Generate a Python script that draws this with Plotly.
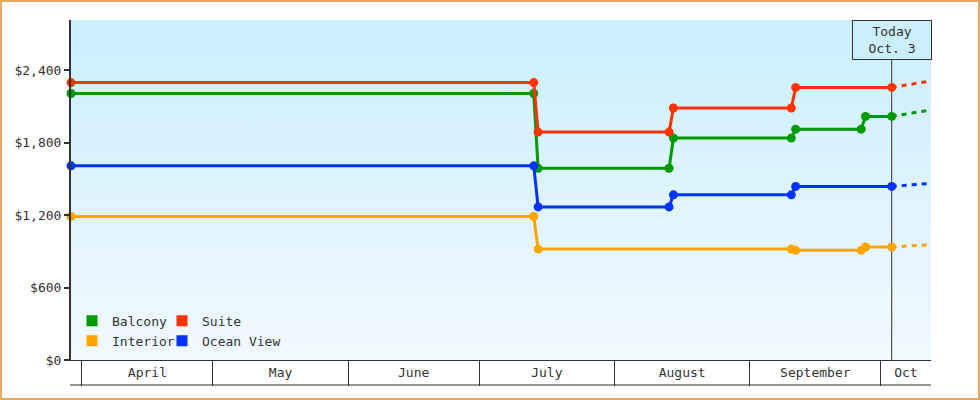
import base64

import pandas as pd
import plotly.graph_objects as go

W, H = 980, 400
ML, MR, MT, MB = 71, 49, 20, 40
INK = "#333333"
MONO = "DejaVu Sans Mono, monospace"
BG_TOP, BG_BOTTOM = "#cbeffd", "#f1f9ff"

COLORS = {
    "Balcony": "#009900",
    "Suite": "#ff3300",
    "Interior": "#ffa500",
    "Ocean View": "#0033ff",
}

# Price history per cabin category (step changes, one point per price change)
balcony_dates = ["2010-03-29 12:00", "2010-07-13 12:00", "2010-07-14 12:00",
                 "2010-08-13 12:00", "2010-08-14 12:00", "2010-09-10 12:00",
                 "2010-09-11 12:00", "2010-09-26 12:00", "2010-09-27 12:00",
                 "2010-10-03 12:00"]
balcony_prices = [2209, 2209, 1589, 1589, 1839, 1839, 1913, 1913, 2019, 2019]

suite_dates = ["2010-03-29 12:00", "2010-07-13 12:00", "2010-07-14 12:00",
               "2010-08-13 12:00", "2010-08-14 12:00", "2010-09-10 12:00",
               "2010-09-11 12:00", "2010-10-03 12:00"]
suite_prices = [2299, 2299, 1889, 1889, 2089, 2089, 2259, 2259]

interior_dates = ["2010-03-29 12:00", "2010-07-13 12:00", "2010-07-14 12:00",
                  "2010-09-10 12:00", "2010-09-11 12:00", "2010-09-26 12:00",
                  "2010-09-27 12:00", "2010-10-03 12:00"]
interior_prices = [1189, 1189, 919, 919, 909, 909, 937, 937]

ocean_dates = ["2010-03-29 12:00", "2010-07-13 12:00", "2010-07-14 12:00",
               "2010-08-13 12:00", "2010-08-14 12:00", "2010-09-10 12:00",
               "2010-09-11 12:00", "2010-10-03 12:00"]
ocean_prices = [1609, 1609, 1269, 1269, 1369, 1369, 1439, 1439]

# Projection beyond today
forecast_dates = ["2010-10-03 12:00", "2010-10-11 12:00"]
balcony_forecast = [2019, 2067]
suite_forecast = [2259, 2307]
interior_forecast = [937, 953]
ocean_forecast = [1439, 1461]

today = "2010-10-03 12:00"
today_label = "Today<br>Oct. 3"

month_names = ["April", "May", "June", "July", "August", "September", "Oct"]
month_starts = ["2010-04-01", "2010-05-01", "2010-06-01", "2010-07-01",
                "2010-08-01", "2010-09-01", "2010-10-01"]
x_range = ["2010-03-29 12:00", "2010-10-12 12:00"]

y_ticks = [0, 600, 1200, 1800, 2400]
y_range = [0, 2818]

series = [
    ("Balcony", balcony_dates, balcony_prices, balcony_forecast),
    ("Suite", suite_dates, suite_prices, suite_forecast),
    ("Interior", interior_dates, interior_prices, interior_forecast),
    ("Ocean View", ocean_dates, ocean_prices, ocean_forecast),
]

# Legend grid: (name, swatch centre x px, row centre y px)
legend_slots = [
    ("Balcony", 92, 320.7),
    ("Suite", 182, 320.7),
    ("Interior", 92, 340.7),
    ("Ocean View", 182, 340.7),
]


def px_x(px):
    """Pixel column -> paper x."""
    return (px - ML) / (W - ML - MR)


def px_y(py):
    """Pixel row -> paper y."""
    return (H - MB - py) / (H - MT - MB)


# Month labels sit in the middle of the visible part of each month
lo, hi = pd.Timestamp(x_range[0]), pd.Timestamp(x_range[1])
starts = [pd.Timestamp(s) for s in month_starts]
ends = starts[1:] + [starts[-1] + pd.offsets.MonthBegin(1)]
label_pos = [max(a, lo) + (min(b, hi) - max(a, lo)) / 2 for a, b in zip(starts, ends)]

fig = go.Figure()

for name, dates, prices, forecast in series:
    color = COLORS[name]
    fig.add_trace(
        go.Scatter(
            x=forecast_dates,
            y=forecast,
            mode="lines",
            line=dict(color=color, width=3, dash="5px,5px"),
            showlegend=False,
            hoverinfo="skip",
        )
    )
    fig.add_trace(
        go.Scatter(
            x=dates,
            y=prices,
            name=name,
            mode="lines+markers",
            line=dict(color=color, width=3),
            marker=dict(color=color, size=9),
            cliponaxis=False,
            showlegend=False,
            hovertemplate=name + " %{x|%b %d}: $%{y:,}<extra></extra>",
        )
    )

# Square legend swatches, one small legend per slot
legends = {}
for i, (name, cx, cy) in enumerate(legend_slots):
    key = "legend" if i == 0 else f"legend{i + 1}"
    fig.add_trace(
        go.Scatter(
            x=[None],
            y=[None],
            xaxis="x2",
            name=name,
            mode="markers",
            marker=dict(symbol="square", size=11, color=COLORS[name]),
            legend=key,
        )
    )
    legends[key] = dict(
        orientation="h",
        xanchor="left",
        yanchor="middle",
        x=px_x(cx - 20),
        y=px_y(cy),
        bgcolor="rgba(0,0,0,0)",
        font=dict(family=MONO, size=13, color=INK),
        itemclick=False,
    )

svg = (
    '<svg xmlns="http://www.w3.org/2000/svg" width="10" height="100" '
    'preserveAspectRatio="none"><defs><linearGradient id="g" x1="0" y1="0" '
    f'x2="0" y2="1"><stop offset="0" stop-color="{BG_TOP}"/><stop offset="1" '
    f'stop-color="{BG_BOTTOM}"/></linearGradient></defs>'
    '<rect width="10" height="100" fill="url(#g)"/></svg>'
)
bg_src = "data:image/svg+xml;base64," + base64.b64encode(svg.encode()).decode()

fig.update_layout(
    width=W,
    height=H,
    margin=dict(l=ML, r=MR, t=MT, b=MB),
    paper_bgcolor="white",
    plot_bgcolor="rgba(0,0,0,0)",
    font=dict(family=MONO, size=13, color=INK),
    images=[
        dict(
            source=bg_src,
            xref="paper",
            yref="paper",
            x=0,
            y=1,
            sizex=1,
            sizey=1,
            sizing="stretch",
            xanchor="left",
            yanchor="top",
            layer="below",
        )
    ],
    xaxis=dict(
        type="date",
        range=x_range,
        tickvals=label_pos,
        ticktext=month_names,
        ticks="",
        showgrid=False,
        zeroline=False,
        showline=True,
        linecolor=INK,
        linewidth=1,
        tickfont=dict(family=MONO, size=13, color=INK),
        fixedrange=True,
    ),
    xaxis2=dict(
        type="date",
        range=x_range,
        overlaying="x",
        matches="x",
        anchor="y",
        side="bottom",
        tickvals=month_starts,
        showticklabels=False,
        ticks="outside",
        ticklen=25,
        tickwidth=1,
        tickcolor=INK,
        showgrid=False,
        zeroline=False,
        showline=False,
    ),
    yaxis=dict(
        range=y_range,
        tickvals=y_ticks,
        tickformat="$,.0f",
        ticks="outside",
        ticklen=5,
        tickwidth=2,
        tickcolor=INK,
        showline=True,
        linecolor=INK,
        linewidth=2,
        showgrid=False,
        zeroline=False,
        tickfont=dict(family=MONO, size=13, color=INK),
        fixedrange=True,
    ),
    shapes=[
        # today marker line
        dict(type="line", xref="x", yref="paper", x0=today, x1=today, y0=0, y1=1,
             line=dict(color=INK, width=1), layer="below"),
        # bottom edge of the month band
        dict(type="line", xref="paper", yref="paper", x0=px_x(70), x1=1,
             y0=px_y(385), y1=px_y(385), line=dict(color=INK, width=1)),
        # outer frame
        dict(type="rect", xref="paper", yref="paper", x0=px_x(1), x1=px_x(W - 1),
             y0=px_y(H - 1), y1=px_y(1), line=dict(color="#e9a963", width=2)),
    ],
    annotations=[
        dict(
            x=today,
            xref="x",
            y=1,
            yref="paper",
            xanchor="center",
            yanchor="top",
            text=today_label,
            showarrow=False,
            width=78,
            height=38,
            borderpad=0,
            borderwidth=1,
            bordercolor=INK,
            bgcolor=BG_TOP,
            font=dict(family=MONO, size=13, color=INK),
        )
    ],
)
fig.update_layout(**legends)

# the page's default body margin would shift the 980x400 figure
fig.write_html(
    "out.html",
    config={"displayModeBar": False},
    post_script="document.body.style.margin='0';",
)
